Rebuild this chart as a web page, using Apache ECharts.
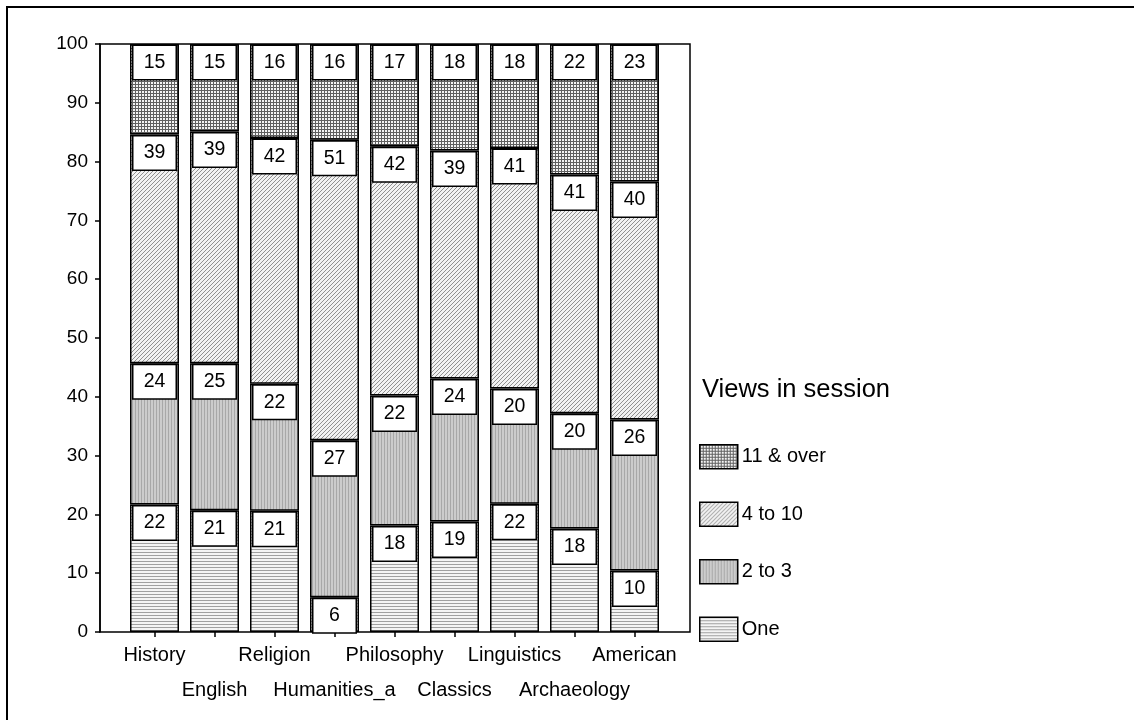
<!DOCTYPE html>
<html>
<head>
<meta charset="utf-8">
<script src="https://cdn.jsdelivr.net/npm/echarts@6/dist/echarts.min.js"></script>
<style>
    html, body {margin: 0; padding: 0; background: #fff;}
    #chart {width: 1134px; height: 720px;}
</style>
</head>
<body>
<div id="chart"></div>
<script>
// subjects along the x axis
var subjects = ['History', 'English', 'Religion', 'Humanities_a', 'Philosophy',
    'Classics', 'Linguistics', 'Archaeology', 'American'];
// percentages (labels show them rounded)
var one = [21.7, 20.7, 20.6, 5.9, 18.1, 18.8, 21.8, 17.6, 10.45];
var twoToThree = [24.0, 25.0, 21.6, 26.7, 22.1, 24.3, 19.6, 19.6, 25.7];
var fourToTen = [38.9, 39.4, 41.8, 51.1, 42.4, 38.8, 40.9, 40.6, 40.45];
var elevenUp = [15.4, 14.9, 16.0, 16.3, 17.4, 18.1, 17.7, 22.2, 23.4];
var seriesNames = ['One', '2 to 3', '4 to 10', '11 & over'];

var font = 'Liberation Sans, Arial, sans-serif';

// small canvas tiles for the hatch fills
function tile(size, draw) {
    var c = document.createElement('canvas');
    c.width = size; c.height = size;
    var ctx = c.getContext('2d');
    draw(ctx, size);
    return {image: c, repeat: 'repeat'};
}
var fills = [
    tile(3, function (ctx, s) {          // horizontal lines
        ctx.fillStyle = '#f4f4f4'; ctx.fillRect(0, 0, s, s);
        ctx.fillStyle = '#a0a0a0'; ctx.fillRect(0, 0, s, 1);
    }),
    tile(3, function (ctx, s) {          // vertical lines on grey
        ctx.fillStyle = '#cccccc'; ctx.fillRect(0, 0, s, s);
        ctx.fillStyle = '#a8a8a8'; ctx.fillRect(0, 0, 1, s);
    }),
    tile(4, function (ctx, s) {          // diagonal
        ctx.fillStyle = '#f2f2f2'; ctx.fillRect(0, 0, s, s);
        ctx.fillStyle = '#909090';
        for (var i = 0; i < s; i++) ctx.fillRect(s - 1 - i, i, 1, 1);
    }),
    tile(3, function (ctx, s) {          // crosshatch
        ctx.fillStyle = '#f4f4f4'; ctx.fillRect(0, 0, s, s);
        ctx.fillStyle = '#606060';
        ctx.fillRect(0, 0, s, 1); ctx.fillRect(0, 0, 1, s);
    })
];

var chart = echarts.init(document.getElementById('chart'));
var data = [one, twoToThree, fourToTen, elevenUp];

var series = data.map(function (arr, i) {
    return {
        name: seriesNames[i],
        type: 'bar',
        stack: 'all',
        xAxisIndex: 1,
        yAxisIndex: 1,
        barWidth: 49,
        data: arr,
        itemStyle: {color: fills[i], borderColor: '#000', borderWidth: 1.5},
        label: {
            show: true,
            position: 'insideTop',
            distance: 2,
            formatter: function (p) { return Math.round(p.value); },
            fontFamily: font,
            fontSize: 19.5,
            color: '#000',
            backgroundColor: '#fff',
            borderColor: '#000',
            borderWidth: 1.5,
            width: 42,
            height: 33,
            lineHeight: 33,
            align: 'center'
        },
        emphasis: {disabled: true}
    };
});

var option = {
    animation: false,
    title: {
        text: 'Views in session',
        left: 697,
        top: 372,
        textStyle: {fontFamily: font, fontSize: 25.5, fontWeight: 'normal', color: '#000'}
    },
    legend: {
        orient: 'vertical',
        left: 694,
        top: 439,
        icon: 'rect',
        itemWidth: 38,
        itemHeight: 24,
        itemGap: 32,
        data: seriesNames.slice().reverse(),
        itemStyle: {borderColor: '#000', borderWidth: 1.5},
        textStyle: {fontFamily: font, fontSize: 20, color: '#000', padding: [0, 0, 0, -1]}
    },
    grid: [{
        left: 100, top: 44, width: 590, height: 588,
        show: true, borderColor: '#000', borderWidth: 1.5
    }, {
        left: 124.5, top: 44, width: 540, height: 588
    }],
    xAxis: [{
        gridIndex: 0, type: 'value', show: false
    }, {
        gridIndex: 1,
        type: 'category',
        data: subjects,
        axisLine: {show: false},
        axisTick: {show: true, alignWithLabel: true, length: 5, lineStyle: {color: '#000', width: 1.5}},
        axisLabel: {
            interval: 0,
            margin: 6,
            fontFamily: font,
            fontSize: 20,
            color: '#000',
            lineHeight: 35,
            formatter: function (v, idx) { return idx % 2 ? '\n' + v : v; }
        }
    }],
    yAxis: [{
        gridIndex: 0,
        type: 'value',
        min: 0, max: 100, interval: 10,
        axisLine: {show: true, lineStyle: {color: '#000', width: 1.5}},
        axisTick: {show: true, length: 5, lineStyle: {color: '#000', width: 1.5}},
        axisLabel: {fontFamily: font, fontSize: 19, color: '#000', margin: 12},
        splitLine: {show: false}
    }, {
        gridIndex: 1,
        type: 'value',
        min: 0, max: 100,
        show: false,
        splitLine: {show: false}
    }],
    graphic: [{
        type: 'polyline',
        shape: {points: [[1134, 7], [7, 7], [7, 720]]},
        style: {stroke: '#000', lineWidth: 2, fill: null}
    }],
    series: series
};

chart.setOption(option);
</script>
</body>
</html>
